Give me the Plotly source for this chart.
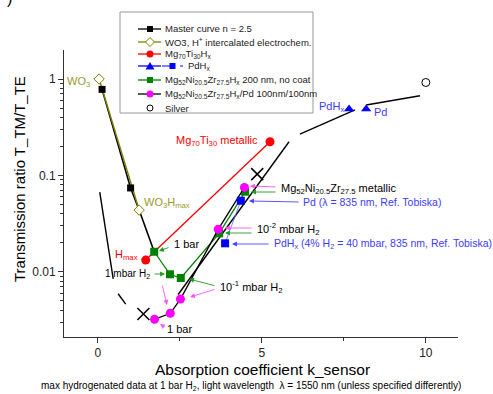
import math
import plotly.graph_objects as go

# ---------------- data ----------------
master_k = [0.13, 1.0, 1.26, 1.72]
master_T = [0.78, 0.074, 0.0436, 0.0161]
master_sq_k = [0.13, 1.0]
master_sq_T = [0.78, 0.074]
master_left1_k = [0.06, 0.47]
master_left1_T = [0.067, 0.0084]
master_left2_k = [0.62, 0.85]
master_left2_T = [0.0059, 0.0046]
master_right1_k = [2.45, 5.83]
master_right1_T = [0.0058, 0.223]
master_right2_k = [6.16, 7.84]
master_right2_T = [0.268, 0.477]
master_right3_k = [8.18, 9.82]
master_right3_T = [0.537, 0.671]
cross_k = [1.39, 4.86]
cross_T = [0.00363, 0.103]

wo3_k = [0.04, 1.26]
wo3_T = [1.0, 0.0436]

mgti_k = [1.46, 5.25]
mgti_T = [0.0132, 0.223]

pdhx_tri_k = [7.66, 8.18]
pdhx_tri_T = [0.488, 0.488]
pd_sq_k = [4.36, 3.88]
pd_sq_T = [0.0545, 0.0197]

green_k = [1.72, 2.20, 2.53, 3.70, 4.49]
green_T = [0.0161, 0.0094, 0.0086, 0.025, 0.0676]

magenta_k = [1.73, 2.21, 2.52, 3.67, 4.47]
magenta_T = [0.0032, 0.0037, 0.0052, 0.0275, 0.075]

silver_k = [10.0]
silver_T = [0.92]

x_ticks = [0, 5, 10]
y_ticks = [0.01, 0.1, 1]
y_ticktext = ["0.01", "0.1", "1"]

# ---------------- layout geometry ----------------
W, H = 493, 394
L, R, T, B = 64, 35, 50, 57
XR = [-1.03, 10.98]
YR = [-2.678, 0.301]
FONT = "Arial, Liberation Sans, sans-serif"

OLIVE = "#808000"
OLIVE_T = "#9a9a2a"
GREEN = "#008000"
MAG = "#ff00ff"
BLUE = "#0000ff"
BLUE_T = "#3c3cff"
RED = "#ff0000"


def dx(px):
    return XR[0] + (px - L) / (W - L - R) * (XR[1] - XR[0])


def dyl(py):
    return YR[1] - (py - T) / (H - T - B) * (YR[1] - YR[0])


def xp(px):
    return (px - L) / (W - L - R)


def yp(py):
    return (H - B - py) / (H - T - B)


fig = go.Figure()


def line(xs, ys, color, width=1.3, dash=None):
    fig.add_trace(go.Scatter(x=xs, y=ys, mode="lines",
                             line=dict(color=color, width=width, dash=dash),
                             hoverinfo="skip"))


# master curve lines
line(master_k, master_T, "black", 1.6)
line(master_left1_k, master_left1_T, "black", 1.4)
line(master_left2_k, master_left2_T, "black", 1.4)
line(master_right1_k, master_right1_T, "black", 1.4)
line(master_right2_k, master_right2_T, "black", 1.4)
line(master_right3_k, master_right3_T, "black", 1.4)
# WO3 line
line(wo3_k, wo3_T, OLIVE, 1.4)
# Mg70Ti30
line(mgti_k, mgti_T, RED, 1.3)
# Pd squares connection
line(pd_sq_k, pd_sq_T, "#6666ff", 0.8)
# green series
fig.add_trace(go.Scatter(x=green_k, y=green_T, mode="lines+markers",
                         line=dict(color=GREEN, width=1.3),
                         marker=dict(symbol="square", size=8, color=GREEN)))
# magenta series
fig.add_trace(go.Scatter(x=magenta_k, y=magenta_T, mode="lines+markers",
                         line=dict(color="black", width=1.3),
                         marker=dict(symbol="circle", size=9, color=MAG)))
# master squares
fig.add_trace(go.Scatter(x=master_sq_k, y=master_sq_T, mode="markers",
                         marker=dict(symbol="square", size=7, color="black")))
# crosses
fig.add_trace(go.Scatter(x=cross_k, y=cross_T, mode="markers",
                         marker=dict(symbol="x-thin", size=12, color="black",
                                     line=dict(color="black", width=1.5))))
# WO3 markers
fig.add_trace(go.Scatter(x=wo3_k, y=wo3_T, mode="markers",
                         marker=dict(symbol="diamond", size=8, color="white",
                                     line=dict(color=OLIVE, width=1))))
# Mg70Ti30 markers
fig.add_trace(go.Scatter(x=mgti_k, y=mgti_T, mode="markers",
                         marker=dict(symbol="circle", size=9, color=RED)))
# Pd markers
fig.add_trace(go.Scatter(x=pdhx_tri_k, y=pdhx_tri_T, mode="markers",
                         marker=dict(symbol="triangle-up", size=9, color=BLUE)))
fig.add_trace(go.Scatter(x=pd_sq_k, y=pd_sq_T, mode="markers",
                         marker=dict(symbol="square", size=8, color=BLUE)))
# Silver
fig.add_trace(go.Scatter(x=silver_k, y=silver_T, mode="markers",
                         marker=dict(symbol="circle", size=8, color="white",
                                     line=dict(color="black", width=1))))

ann = []


def text(s, px, py, color="black", size=10.5, anchor="left"):
    ann.append(dict(x=dx(px), y=dyl(py), xref="x", yref="y", text=s,
                    showarrow=False, xanchor=anchor, yanchor="middle",
                    font=dict(family=FONT, size=size, color=color)))


def arrow(hx, hy, tx, ty, color):
    ann.append(dict(x=dx(hx), y=dyl(hy), xref="x", yref="y", text="",
                    showarrow=True, ax=tx - hx, ay=ty - hy,
                    arrowhead=2, arrowsize=1.1, arrowwidth=0.9,
                    arrowcolor=color, standoff=0))


text("WO<sub>3</sub>", 92, 82, OLIVE_T, 11, "right")
text("WO<sub>3</sub>H<sub>max</sub>", 142, 203, OLIVE_T, 11)
text("H<sub>max</sub>", 140, 255, RED, 11, "right")
text("Mg<sub>70</sub>Ti<sub>30</sub> metallic", 260, 141, RED, 11, "right")
text("1 bar", 172, 244, "black", 11)
text("1 mbar H<sub>2</sub>", 152, 274, "black", 10, "right")
text("10<sup>-1</sup> mbar H<sub>2</sub>", 218, 287, "black", 11)
text("1 bar", 165, 329, "black", 11)
text("Mg<sub>52</sub>Ni<sub>20.5</sub>Zr<sub>27.5</sub> metallic", 279, 189, "black", 11)
text("Pd (λ = 835 nm, Ref. Tobiska)", 301, 202, BLUE_T, 10.5)
text("10<sup>-2</sup> mbar H<sub>2</sub>", 255, 229, "black", 11)
text("PdH<sub>x</sub> (4% H<sub>2</sub> = 40 mbar, 835 nm, Ref. Tobiska)", 272, 244, BLUE_T, 10.5)
text("PdH<sub>x</sub>", 317, 107, BLUE_T, 11)
text("Pd", 372, 112, BLUE_T, 11)

MAGA = "#ff55ff"
GRA = "#229922"
BLA = "#4444ff"
arrow(159, 251, 170, 247, GRA)
arrow(165, 274, 153, 274, GRA)
arrow(167, 305, 162, 284, MAGA)
arrow(189, 279, 216, 286, GRA)
arrow(190, 297, 216, 289, MAGA)
arrow(160, 324, 166, 328, MAGA)
arrow(250, 186, 277, 187, MAGA)
arrow(251, 192, 277, 192, GRA)
arrow(249, 201, 300, 202, BLA)
arrow(225, 228, 253, 228, MAGA)
arrow(225, 233, 253, 233, GRA)
arrow(232, 244, 270, 244, BLA)

# axis titles and caption
ann.append(dict(x=xp(262), y=yp(369), xref="paper", yref="paper",
                text="Absorption coefficient k_sensor", showarrow=False,
                xanchor="center", yanchor="middle",
                font=dict(family=FONT, size=15.5, color="black")))
ann.append(dict(x=xp(19), y=yp(179), xref="paper", yref="paper",
                text="Transmission ratio T_TM/T_TE", showarrow=False,
                textangle=-90, xanchor="center", yanchor="middle",
                font=dict(family=FONT, size=15, color="black")))
ann.append(dict(x=xp(251), y=yp(386), xref="paper", yref="paper",
                text="max hydrogenated data at 1 bar H<sub>2</sub>, light wavelength  λ = 1550 nm (unless specified differently)",
                showarrow=False, xanchor="center", yanchor="middle",
                font=dict(family=FONT, size=10, color="black")))
ann.append(dict(x=xp(9), y=yp(9), xref="paper", yref="paper", text=")",
                showarrow=False, xanchor="center", yanchor="bottom",
                font=dict(family=FONT, size=16, color="black")))

# ---------------- legend (drawn by hand to match the compact box) ----------------
shapes = []


def pl(x0, y0, x1, y1, color, width=1.3, dash=None):
    shapes.append(dict(type="line", xref="paper", yref="paper",
                       x0=xp(x0), y0=yp(y0), x1=xp(x1), y1=yp(y1),
                       line=dict(color=color, width=width, dash=dash)))


def psq(cx, cy, s, color):
    shapes.append(dict(type="rect", xref="paper", yref="paper",
                       x0=xp(cx - s / 2), x1=xp(cx + s / 2),
                       y0=yp(cy + s / 2), y1=yp(cy - s / 2),
                       fillcolor=color, line=dict(width=0)))


def pci(cx, cy, s, fill, edge=None):
    shapes.append(dict(type="circle", xref="paper", yref="paper",
                       x0=xp(cx - s / 2), x1=xp(cx + s / 2),
                       y0=yp(cy + s / 2), y1=yp(cy - s / 2),
                       fillcolor=fill,
                       line=dict(color=edge or fill, width=1 if edge else 0)))


def ppath(pts, fill, edge=None):
    d = "M " + " L ".join(f"{xp(a):.5f},{yp(b):.5f}" for a, b in pts) + " Z"
    shapes.append(dict(type="path", xref="paper", yref="paper", path=d,
                       fillcolor=fill,
                       line=dict(color=edge or fill, width=1 if edge else 0)))


shapes.append(dict(type="rect", xref="paper", yref="paper",
                   x0=xp(120), x1=xp(313), y0=yp(113), y1=yp(12),
                   line=dict(color="#999999", width=1), fillcolor="white",
                   layer="below"))

rows = [29, 42, 54, 66, 80, 94, 108]
# 1 master
pl(138, rows[0], 161, rows[0], "black")
psq(150, rows[0], 6, "black")
# 2 WO3
pl(138, rows[1], 161, rows[1], OLIVE)
ppath([(150, rows[1] - 4.5), (154.5, rows[1]), (150, rows[1] + 4.5), (145.5, rows[1])], "white", OLIVE)
# 3 MgTi
pl(138, rows[2], 161, rows[2], RED)
pci(150, rows[2], 7, RED)
# 4 PdHx
pl(138, rows[3], 161, rows[3], BLUE)
ppath([(150, rows[3] - 4), (154.5, rows[3] + 3.5), (145.5, rows[3] + 3.5)], BLUE)
pl(162, rows[3], 183, rows[3], BLUE, 1.0, "dash")
psq(172.5, rows[3], 6, BLUE)
# 5 green
pl(138, rows[4], 161, rows[4], GREEN)
psq(150, rows[4], 6, GREEN)
# 6 magenta
pl(138, rows[5], 161, rows[5], "black")
pci(150, rows[5], 7, MAG)
# 7 silver
pci(150, rows[6], 6, "white", "black")

leg_texts = [
    (163, "Master curve n = 2.5"),
    (163, "WO3, H<sup>+</sup> intercalated electrochem."),
    (163, "Mg<sub>70</sub>Ti<sub>30</sub>H<sub>x</sub>"),
    (186, "PdH<sub>x</sub>"),
    (163, "Mg<sub>52</sub>Ni<sub>20.5</sub>Zr<sub>27.5</sub>H<sub>x</sub> 200 nm, no coat"),
    (163, "Mg<sub>52</sub>Ni<sub>20.5</sub>Zr<sub>27.5</sub>H<sub>x</sub>/Pd 100nm/100nm"),
    (163, "Silver"),
]
for (lx, s), ry in zip(leg_texts, rows):
    ann.append(dict(x=xp(lx), y=yp(ry), xref="paper", yref="paper", text=s,
                    showarrow=False, xanchor="left", yanchor="middle",
                    font=dict(family=FONT, size=9.5, color="#222222")))

y_minor = [m * 10 ** e for e in (-3, -2, -1) for m in range(2, 10)]
y_minor = [v for v in y_minor if math.log10(v) > YR[0]]

fig.update_layout(
    width=W, height=H,
    margin=dict(l=L, r=R, t=T, b=B, pad=0),
    paper_bgcolor="white", plot_bgcolor="white",
    showlegend=False,
    annotations=ann, shapes=shapes,
    font=dict(family=FONT, color="#222222"),
    xaxis=dict(range=XR, showline=True, linecolor="#333333", linewidth=1,
               ticks="outside", ticklen=5, tickwidth=1, tickcolor="#333333",
               tickvals=x_ticks, showgrid=False, zeroline=False,
               tickfont=dict(family=FONT, size=12, color="#222222"),
               minor=dict(tickvals=[2.5, 7.5], ticks="outside", ticklen=3,
                          tickcolor="#333333", showgrid=False)),
    yaxis=dict(type="log", range=YR, showline=True, linecolor="#333333",
               linewidth=1, ticks="outside", ticklen=5, tickwidth=1,
               tickcolor="#333333", tickvals=y_ticks, ticktext=y_ticktext,
               showgrid=False, zeroline=False,
               tickfont=dict(family=FONT, size=12, color="#222222"),
               minor=dict(tickvals=y_minor, ticks="outside", ticklen=3,
                          tickcolor="#333333", showgrid=False)),
)

fig.write_html("out.html")
